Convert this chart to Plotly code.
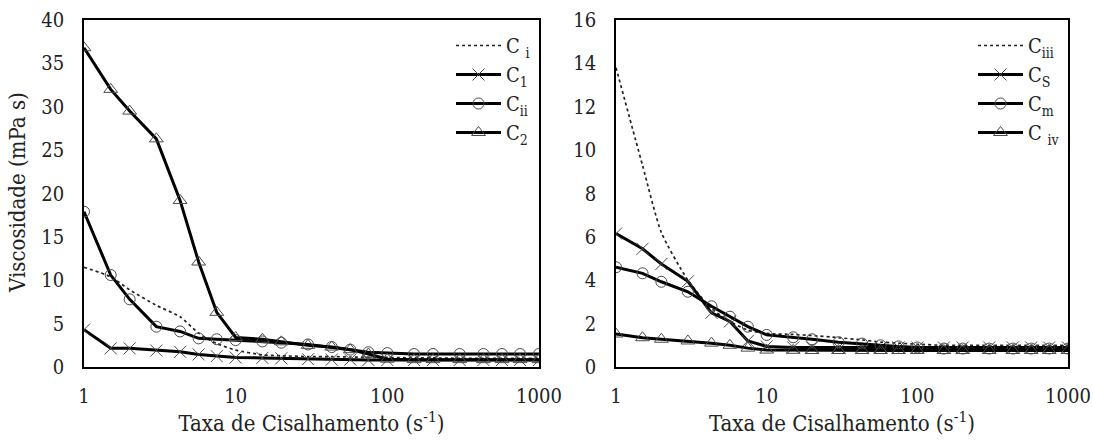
import plotly.graph_objects as go

# Shear rate (s^-1), common to both panels
shear_rate = [1, 1.5, 2, 3, 4.3, 5.7, 7.5, 10, 15, 20, 30, 43, 57, 75,
              100, 150, 200, 300, 430, 570, 750, 1000]

# Left panel viscosities (mPa s)
visc_ci = [11.5, 10.4, 8.9, 7.1, 5.8, 3.9, 2.7, 1.95, 1.4, 1.3, 1.2, 1.2, 1.15, 1.1,
           1.1, 1.05, 1.05, 1.0, 1.0, 1.0, 1.0, 1.0]
visc_c1 = [4.3, 2.15, 2.15, 1.9, 1.75, 1.45, 1.25, 1.1, 1.05, 1.0, 0.9, 0.85, 0.85, 0.8,
           0.8, 0.8, 0.8, 0.8, 0.8, 0.8, 0.8, 0.8]
visc_cii = [17.9, 10.6, 7.8, 4.65, 4.1, 3.3, 3.2, 3.1, 2.95, 2.8, 2.6, 2.3, 2.0, 1.7,
            1.6, 1.5, 1.5, 1.5, 1.5, 1.5, 1.5, 1.5]
visc_c2 = [36.8, 32.0, 29.5, 26.3, 19.2, 12.1, 6.3, 3.4, 3.2, 2.9, 2.5, 2.3, 2.0, 1.5,
           0.9, 0.85, 0.85, 0.85, 0.85, 0.85, 0.85, 0.85]

# Right panel viscosities (mPa s)
visc_ciii = [13.8, 9.3, 6.2, 4.0, 2.7, 2.1, 1.7, 1.55, 1.5, 1.45, 1.35, 1.25, 1.15, 1.1,
             1.05, 1.0, 1.0, 1.0, 1.0, 1.0, 1.0, 1.0]
visc_cs = [6.15, 5.45, 4.75, 3.95, 2.5, 2.1, 1.2, 0.95, 0.9, 0.9, 0.9, 0.9, 0.9, 0.9,
           0.9, 0.9, 0.9, 0.9, 0.9, 0.9, 0.9, 0.9]
visc_cm = [4.6, 4.32, 3.93, 3.47, 2.8, 2.32, 1.86, 1.48, 1.37, 1.28, 1.14, 1.08, 1.0, 0.95,
           0.9, 0.85, 0.85, 0.85, 0.85, 0.85, 0.85, 0.85]
visc_civ = [1.52, 1.35, 1.28, 1.2, 1.1, 1.0, 0.87, 0.78, 0.77, 0.76, 0.76, 0.76, 0.76, 0.76,
            0.76, 0.76, 0.76, 0.76, 0.76, 0.76, 0.76, 0.76]

x_ticks = [1, 10, 100, 1000]
x_ticktext = ["1", "10", "100", "1000"]

FONT = "DejaVu Serif Condensed"
MARK_EDGE = "#4a4a4a"
TXT = "#222222"


def dotted(name, y, xa, ya, leg):
    return go.Scatter(x=shear_rate, y=y, name=name, mode="lines", xaxis=xa, yaxis=ya,
                      legend=leg, line=dict(color="#222222", width=1.7, dash="dot",
                                            shape="spline", smoothing=0.6))


def solid(name, y, symbol, size, xa, ya, leg):
    return go.Scatter(x=shear_rate, y=y, name=name, mode="lines+markers", xaxis=xa, yaxis=ya,
                      legend=leg, line=dict(color="black", width=3),
                      marker=dict(symbol=symbol, size=size, color=MARK_EDGE,
                                  line=dict(color=MARK_EDGE, width=1)))


traces = [
    dotted("C <sub>i</sub>", visc_ci, "x", "y", "legend"),
    solid("C<sub>1</sub>", visc_c1, "x-thin", 12, "x", "y", "legend"),
    solid("C<sub>ii</sub>", visc_cii, "circle-open", 11, "x", "y", "legend"),
    solid("C<sub>2</sub>", visc_c2, "triangle-up-open", 12, "x", "y", "legend"),
    dotted("C<sub>iii</sub>", visc_ciii, "x2", "y2", "legend2"),
    solid("C<sub>S</sub>", visc_cs, "x-thin", 12, "x2", "y2", "legend2"),
    solid("C<sub>m</sub>", visc_cm, "circle-open", 11, "x2", "y2", "legend2"),
    solid("C <sub>iv</sub>", visc_civ, "triangle-up-open", 12, "x2", "y2", "legend2"),
]

fig = go.Figure(traces)

W, H = 1093, 441
y_dom = [1 - 367 / H, 1 - 20 / H]

xaxis_style = dict(type="log", range=[0, 3], tickvals=x_ticks, ticktext=x_ticktext,
                   showgrid=False, zeroline=False, showline=True, linecolor="black",
                   linewidth=1.5, mirror=True, ticks="outside", ticklen=10,
                   tickcolor="rgba(0,0,0,0)", tickfont=dict(family=FONT, size=20, color=TXT),
                   title=dict(text="Taxa de Cisalhamento (s<sup>-1</sup>)",
                              font=dict(family=FONT, size=22, color=TXT), standoff=9))

yaxis_style = dict(showgrid=False, zeroline=False, showline=True, linecolor="black",
                   linewidth=1.5, mirror=True, ticks="outside", ticklen=14,
                   tickcolor="rgba(0,0,0,0)", tickfont=dict(family=FONT, size=20, color=TXT))

legend_style = dict(font=dict(family=FONT, size=20, color=TXT), bgcolor="rgba(0,0,0,0)",
                    borderwidth=0, xanchor="left", yanchor="top", itemwidth=45,
                    tracegroupgap=0)

fig.update_layout(
    width=W, height=H,
    font=dict(family=FONT),
    margin=dict(l=0, r=0, t=0, b=0, autoexpand=False),
    paper_bgcolor="white", plot_bgcolor="white",
    xaxis=dict(domain=[84 / W, 539 / W], anchor="y", **xaxis_style),
    yaxis=dict(domain=y_dom, anchor="x", range=[0, 40], dtick=5, **yaxis_style),
    xaxis2=dict(domain=[616 / W, 1068 / W], anchor="y2", **xaxis_style),
    yaxis2=dict(domain=y_dom, anchor="x2", range=[0, 16], dtick=2, **yaxis_style),
    legend=dict(x=451 / W, y=1 - 26 / H, **legend_style),
    legend2=dict(x=973 / W, y=1 - 26 / H, **legend_style),
    showlegend=True,
    annotations=[dict(text="Viscosidade (mPa s)", x=17 / W, y=1 - 193 / H,
                      xref="paper", yref="paper", textangle=-90, showarrow=False,
                      xanchor="center", yanchor="middle",
                      font=dict(family=FONT, size=22, color=TXT))],
)

fig.write_html("out.html")
